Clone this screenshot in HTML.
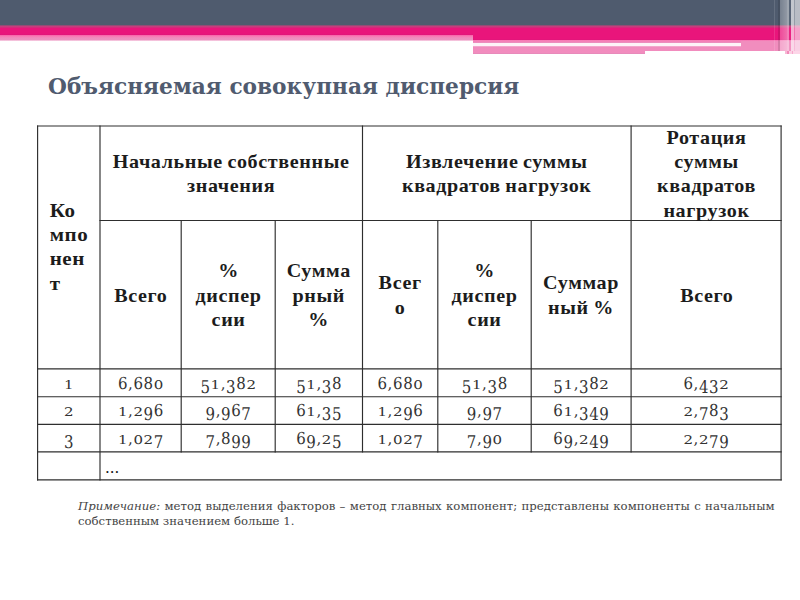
<!DOCTYPE html>
<html lang="ru">
<head>
<meta charset="utf-8">
<title>Объясняемая совокупная дисперсия</title>
<style>
*{margin:0;padding:0;box-sizing:border-box}
html,body{width:800px;height:600px;overflow:hidden;background:#fff}
body{position:relative;font-family:"Liberation Serif","Noto Serif CJK SC",serif;color:#111}
.a{position:absolute}
#hdr{left:0;top:0;width:800px;height:25.5px;background:#4f5b6e}
#pk1{left:0;top:25.2px;width:800px;height:2.8px;background:linear-gradient(#7a5070,#c4407e 45%,#d8247a)}
#pk2{left:0;top:28px;width:473.3px;height:6.5px;background:linear-gradient(#e9157b 0,#e9157b 75%,#e0157a 100%)}
#pk3{left:0;top:34.5px;width:473.3px;height:6px;background:linear-gradient(#ee4c98 0,#fa78b4 12%,#f87cb6 30%,#ee8cbd 45%,#ec92c0 80%,#fbe4ef 100%)}
#pk4{left:473.3px;top:28px;width:326.7px;height:11.5px;background:linear-gradient(#e9157b 0,#e9157b 88%,#e0157a 100%)}
#pk5{left:473.3px;top:39.5px;width:326.7px;height:3px;background:linear-gradient(#f878b4 0,#f47fb7 45%,#ea90c0 100%)}
#pk6{left:473.3px;top:46px;width:326.7px;height:8px;background:linear-gradient(#f6c0dc 0,#f08cbe 12%,#f28cbe 85%,#e088b8 100%)}
#pkw{left:473.3px;top:42.5px;width:267.7px;height:3.5px;background:#fdf2f8}
#pk7{left:645px;top:51px;width:140px;height:3px;background:#fff}
#pk8{left:741px;top:41px;width:59px;height:9.5px;background:#f18dbe}
#str{left:774px;top:0;width:26px;height:51px;background:linear-gradient(90deg,rgba(255,255,255,.12) 0 1.2px,rgba(255,255,255,0) 1.2px 3.6px,rgba(0,0,0,.12) 3.6px 5.6px,rgba(255,255,255,.22) 5.6px,rgba(255,255,255,.38) 13.2px,rgba(255,255,255,.45) 13.2px 14.8px,rgba(255,255,255,.06) 14.8px 16.8px,rgba(255,255,255,.66) 16.8px 19.6px,rgba(255,255,255,.4) 19.6px 21.2px,rgba(255,255,255,.6) 21.2px 26px)}
#str2{left:785px;top:51px;width:15px;height:3px;background:linear-gradient(90deg,#f9b8d6 0 2px,#f08ab9 2px 3.8px,#fcd0e4 3.8px 6.6px,#f6a8cc 6.6px 8.2px,#fdd6e8 8.2px)}
h1{position:absolute;left:48px;top:73px;font-family:"DejaVu Serif",serif;font-weight:bold;font-size:21.7px;line-height:28px;color:#505b6f;white-space:nowrap}
.grid{position:absolute;left:0;top:0}
.c{position:absolute;display:flex;align-items:center;justify-content:center;text-align:center}
.t{display:inline-block;white-space:nowrap}
.b .t{font-weight:bold;font-size:18.3px;line-height:24.3px;letter-spacing:.55px;word-spacing:-1px;transform:translateY(.8px) scaleX(1.1);padding-left:.55px;color:#1c1c1c}
.k{justify-content:flex-start;text-align:left}
.k .t{transform-origin:0 50%;margin-left:11.2px;transform:translateY(.3px) scaleX(1.15)}
.n .t{text-rendering:geometricPrecision;font-family:"DejaVu Serif",serif;font-size:15px;line-height:20px;color:#333;letter-spacing:.6px;padding-left:.6px;transform:translateY(1.2px)}
.d{display:inline-block;line-height:15px;transform-origin:50% 12.5px}
.d.s{transform:scaleY(.8)}
.d.h{transform:scaleY(1.1)}
.d.u{transform:translateY(3.9px) scaleY(1.17)}
.dots{position:absolute;left:105px;top:458px;font-family:"DejaVu Serif",serif;font-size:15px;line-height:20px}
.note{position:absolute;left:78px;font-family:"DejaVu Serif",serif;font-size:11.7px;line-height:15px;color:#444;white-space:nowrap}
</style>
</head>
<body>
<div class="a" id="hdr"></div>
<div class="a" id="pk1"></div>
<div class="a" id="pk2"></div>
<div class="a" id="pk3"></div>
<div class="a" id="pk4"></div>
<div class="a" id="pk5"></div>
<div class="a" id="pk6"></div>
<div class="a" id="pkw"></div>
<div class="a" id="pk7"></div>
<div class="a" id="pk8"></div>
<div class="a" id="str"></div>
<div class="a" id="str2"></div>
<h1>Объясняемая совокупная дисперсия</h1>
<svg class="grid" width="800" height="600" viewBox="0 0 800 600" stroke="#2e2e2e" stroke-width="1.15" shape-rendering="geometricPrecision"><line x1="37.02" y1="126.0" x2="781.68" y2="126.0"/><line x1="99.42" y1="220.5" x2="781.68" y2="220.5"/><line x1="37.02" y1="368.9" x2="781.68" y2="368.9"/><line x1="37.02" y1="396.7" x2="781.68" y2="396.7"/><line x1="37.02" y1="424.3" x2="781.68" y2="424.3"/><line x1="37.02" y1="451.9" x2="781.68" y2="451.9"/><line x1="37.02" y1="479.8" x2="781.68" y2="479.8"/><line x1="37.6" y1="125.42" x2="37.6" y2="480.38"/><line x1="100.0" y1="125.42" x2="100.0" y2="480.38"/><line x1="781.1" y1="125.42" x2="781.1" y2="480.38"/><line x1="362.5" y1="125.42" x2="362.5" y2="452.47"/><line x1="631.1" y1="125.42" x2="631.1" y2="452.47"/><line x1="181.2" y1="219.93" x2="181.2" y2="452.47"/><line x1="275.2" y1="219.93" x2="275.2" y2="452.47"/><line x1="437.8" y1="219.93" x2="437.8" y2="452.47"/><line x1="531.2" y1="219.93" x2="531.2" y2="452.47"/></svg>
<div class="c b k" style="left:37.6px;top:126.0px;width:62.4px;height:242.9px"><div class="t">Ко<br>мпо<br>нен<br>т</div></div><div class="c b" style="left:100.0px;top:126.0px;width:262.5px;height:94.5px"><div class="t">Начальные собственные<br>значения</div></div><div class="c b" style="left:362.5px;top:126.0px;width:268.6px;height:94.5px"><div class="t">Извлечение суммы<br>квадратов нагрузок</div></div><div class="c b" style="left:631.1px;top:126.0px;width:150.0px;height:94.5px"><div class="t">Ротация<br>суммы<br>квадратов<br>нагрузок</div></div><div class="c b" style="left:100.0px;top:220.5px;width:81.2px;height:148.4px"><div class="t">Всего</div></div><div class="c b" style="left:181.2px;top:220.5px;width:94.0px;height:148.4px"><div class="t">%<br>диспер<br>сии</div></div><div class="c b" style="left:275.2px;top:220.5px;width:87.3px;height:148.4px"><div class="t">Сумма<br>рный<br>%</div></div><div class="c b" style="left:362.5px;top:220.5px;width:75.3px;height:148.4px"><div class="t">Всег<br>о</div></div><div class="c b" style="left:437.8px;top:220.5px;width:93.4px;height:148.4px"><div class="t">%<br>диспер<br>сии</div></div><div class="c b" style="left:531.2px;top:220.5px;width:99.9px;height:148.4px"><div class="t">Суммар<br>ный %</div></div><div class="c b" style="left:631.1px;top:220.5px;width:150.0px;height:148.4px"><div class="t">Всего</div></div><div class="c n" style="left:37.6px;top:368.9px;width:62.4px;height:27.8px"><div class="t"><span class="d s">1</span></div></div><div class="c n" style="left:100.0px;top:368.9px;width:81.2px;height:27.8px"><div class="t"><span class="d h">6</span>,<span class="d h">6</span><span class="d h">8</span><span class="d s">0</span></div></div><div class="c n" style="left:181.2px;top:368.9px;width:94.0px;height:27.8px"><div class="t"><span class="d u">5</span><span class="d s">1</span>,<span class="d u">3</span><span class="d h">8</span><span class="d s">2</span></div></div><div class="c n" style="left:275.2px;top:368.9px;width:87.3px;height:27.8px"><div class="t"><span class="d u">5</span><span class="d s">1</span>,<span class="d u">3</span><span class="d h">8</span></div></div><div class="c n" style="left:362.5px;top:368.9px;width:75.3px;height:27.8px"><div class="t"><span class="d h">6</span>,<span class="d h">6</span><span class="d h">8</span><span class="d s">0</span></div></div><div class="c n" style="left:437.8px;top:368.9px;width:93.4px;height:27.8px"><div class="t"><span class="d u">5</span><span class="d s">1</span>,<span class="d u">3</span><span class="d h">8</span></div></div><div class="c n" style="left:531.2px;top:368.9px;width:99.9px;height:27.8px"><div class="t"><span class="d u">5</span><span class="d s">1</span>,<span class="d u">3</span><span class="d h">8</span><span class="d s">2</span></div></div><div class="c n" style="left:631.1px;top:368.9px;width:150.0px;height:27.8px"><div class="t"><span class="d h">6</span>,<span class="d u">4</span><span class="d u">3</span><span class="d s">2</span></div></div><div class="c n" style="left:37.6px;top:396.7px;width:62.4px;height:27.6px"><div class="t"><span class="d s">2</span></div></div><div class="c n" style="left:100.0px;top:396.7px;width:81.2px;height:27.6px"><div class="t"><span class="d s">1</span>,<span class="d s">2</span><span class="d u">9</span><span class="d h">6</span></div></div><div class="c n" style="left:181.2px;top:396.7px;width:94.0px;height:27.6px"><div class="t"><span class="d u">9</span>,<span class="d u">9</span><span class="d h">6</span><span class="d u">7</span></div></div><div class="c n" style="left:275.2px;top:396.7px;width:87.3px;height:27.6px"><div class="t"><span class="d h">6</span><span class="d s">1</span>,<span class="d u">3</span><span class="d u">5</span></div></div><div class="c n" style="left:362.5px;top:396.7px;width:75.3px;height:27.6px"><div class="t"><span class="d s">1</span>,<span class="d s">2</span><span class="d u">9</span><span class="d h">6</span></div></div><div class="c n" style="left:437.8px;top:396.7px;width:93.4px;height:27.6px"><div class="t"><span class="d u">9</span>,<span class="d u">9</span><span class="d u">7</span></div></div><div class="c n" style="left:531.2px;top:396.7px;width:99.9px;height:27.6px"><div class="t"><span class="d h">6</span><span class="d s">1</span>,<span class="d u">3</span><span class="d u">4</span><span class="d u">9</span></div></div><div class="c n" style="left:631.1px;top:396.7px;width:150.0px;height:27.6px"><div class="t"><span class="d s">2</span>,<span class="d u">7</span><span class="d h">8</span><span class="d u">3</span></div></div><div class="c n" style="left:37.6px;top:424.3px;width:62.4px;height:27.6px"><div class="t"><span class="d u">3</span></div></div><div class="c n" style="left:100.0px;top:424.3px;width:81.2px;height:27.6px"><div class="t"><span class="d s">1</span>,<span class="d s">0</span><span class="d s">2</span><span class="d u">7</span></div></div><div class="c n" style="left:181.2px;top:424.3px;width:94.0px;height:27.6px"><div class="t"><span class="d u">7</span>,<span class="d h">8</span><span class="d u">9</span><span class="d u">9</span></div></div><div class="c n" style="left:275.2px;top:424.3px;width:87.3px;height:27.6px"><div class="t"><span class="d h">6</span><span class="d u">9</span>,<span class="d s">2</span><span class="d u">5</span></div></div><div class="c n" style="left:362.5px;top:424.3px;width:75.3px;height:27.6px"><div class="t"><span class="d s">1</span>,<span class="d s">0</span><span class="d s">2</span><span class="d u">7</span></div></div><div class="c n" style="left:437.8px;top:424.3px;width:93.4px;height:27.6px"><div class="t"><span class="d u">7</span>,<span class="d u">9</span><span class="d s">0</span></div></div><div class="c n" style="left:531.2px;top:424.3px;width:99.9px;height:27.6px"><div class="t"><span class="d h">6</span><span class="d u">9</span>,<span class="d s">2</span><span class="d u">4</span><span class="d u">9</span></div></div><div class="c n" style="left:631.1px;top:424.3px;width:150.0px;height:27.6px"><div class="t"><span class="d s">2</span>,<span class="d s">2</span><span class="d u">7</span><span class="d u">9</span></div></div><div class="dots">...</div>
<div class="note" style="top:499px;word-spacing:.65px"><i>Примечание:</i> метод выделения факторов – метод главных компонент; представлены компоненты с начальным</div>
<div class="note" style="top:514px">собственным значением больше 1.</div>
</body>
</html>
